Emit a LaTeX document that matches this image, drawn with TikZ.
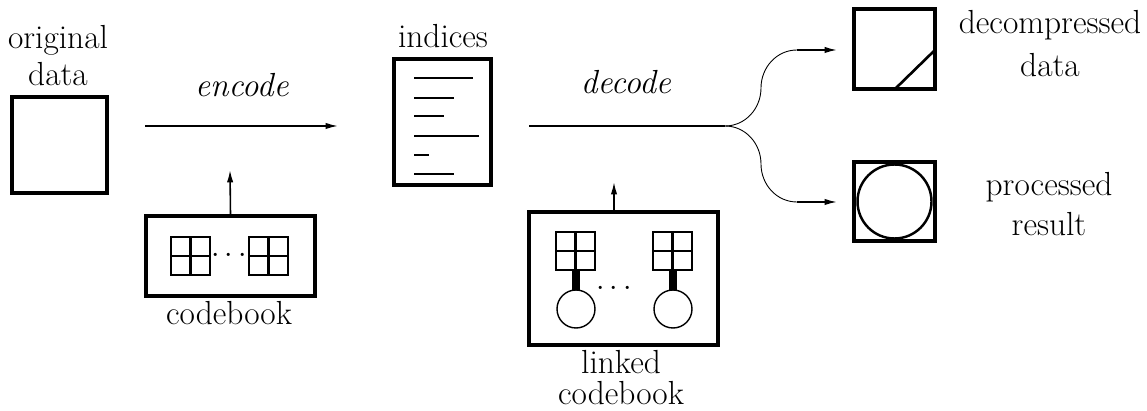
\documentclass[tikz,border=0pt]{standalone}
\usetikzlibrary{arrows.meta}
\tikzset{
	heavy box/.style={
		draw,
		line width=2.2pt,
		inner sep=0pt
	},
	label text/.style={
		anchor=base,
		align=center,
		inner sep=0pt,
		font=\fontsize{19}{21.6}\selectfont
	},
	flow/.style={
		line width=0.9pt,
		-{Latex[length=7pt,width=3.6pt]}
	},
	branch/.style={
		line width=0.5pt
	},
	cell line/.style={
		line width=1.3pt
	},
	index line/.style={
		line width=1.4pt
	}
}

\begin{document}
\begin{tikzpicture}[x=0.02cm, y=-0.02cm]
		
		% --- frame of the picture ---
		\useasboundingbox (0,0) rectangle (1147,411);
		
		% --- 1. original data ---
		% (base of a two-line label = base of its last line)
		\node[heavy box, minimum width=1.9cm, minimum height=1.92cm] (orig) at (59.5,145) {};
		\node[label text] (origLabel) at (58,86) {original\\data};
		
		% --- 2. encode ---
		\coordinate (encStart) at (145,126);
		\coordinate (encEnd) at (338,126);
		\draw[flow] (encStart) -- (encEnd);
		\node[label text] (encLabel) at (242,97) {\textit{encode}};
		
		% --- 3. codebook ---
		\node[heavy box, minimum width=3.38cm, minimum height=1.6cm] (cb) at (230.5,256) {};
		\foreach \x in {171, 249} {
			\draw[cell line] (\x,237) rectangle ++(39,38);
			\draw[cell line] (\x+19.5,237) -- ++(0,38);
			\draw[cell line] (\x,256) -- ++(39,0);
		}
		\node[inner sep=0pt, font=\fontsize{19}{21.6}\selectfont] (cbDots) at (229,256) {$\cdots$};
		\node[label text] (cbLabel) at (229,325) {codebook};
		\coordinate (cbTip) at (230,170);
		\draw[flow] (cb.north) -- (cbTip);
		
		% --- 4. indices ---
		\node[heavy box, minimum width=1.94cm, minimum height=2.52cm] (idx) at (442.5,122) {};
		\node[label text] (idxLabel) at (443,48) {indices};
		\foreach \y/\len in {78/59, 98/40, 116/30, 136/65, 155/15, 174/40} {
			\draw[index line] (414,\y) -- ++(\len,0);
		}
		
		% --- 5. linked codebook ---
		\node[heavy box, minimum width=3.78cm, minimum height=2.66cm] (lcb) at (623.5,278.5) {};
		\foreach \x in {556, 653} {
			\draw[cell line] (\x,232) rectangle ++(39,38);
			\draw[cell line] (\x+19.5,232) -- ++(0,38);
			\draw[cell line] (\x,251) -- ++(39,0);
			\draw[line width=5pt] (\x+20,270) -- ++(0,20);
			\draw[line width=0.8pt] (\x+20,309) circle (19);
		}
		\node[inner sep=0pt, font=\fontsize{19}{21.6}\selectfont] (lcbDots) at (614,289) {$\cdots$};
		\node[label text] (lcbLabel) at (621,405) {linked\\[-3.6pt]codebook};
		\coordinate (lcbTip) at (614,182);
		\draw[flow] (lcb.north -| lcbTip) -- (lcbTip);
		
		% --- 6. decode and the two branches ---
		\coordinate (decStart) at (529,126);
		\coordinate (split) at (725,126);
		\draw[flow, -] (decStart) -- (split);
		\node[label text] (decLabel) at (626,94) {\textit{decode}};
		
		\coordinate (upMid) at (761,88);
		\coordinate (upBend) at (797,50);
		\coordinate (upTip) at (837,50);
		\coordinate (downMid) at (761,164);
		\coordinate (downBend) at (797,202);
		\coordinate (downTip) at (837,202);
		\draw[branch] (split) to[out=0, in=-90] (upMid) to[out=90, in=180] (upBend);
		\draw[branch] (split) to[out=0, in=90] (downMid) to[out=-90, in=180] (downBend);
		\draw[flow] (upBend) -- (upTip);
		\draw[flow] (downBend) -- (downTip);
		
		% --- 7. decompressed data ---
		\node[heavy box, minimum width=1.62cm, minimum height=1.6cm] (dec) at (894.5,49) {};
		\draw[line width=1.5pt] (895,89) -- (935,50);
		\node[label text] (decLabelR) at (1050,77) {decompressed\\[3.4pt]data};
		
		% --- 8. processed result ---
		\node[heavy box, minimum width=1.62cm, minimum height=1.58cm] (proc) at (894.5,201.5) {};
		\draw[line width=1.4pt] (proc.center) circle (37);
		\node[label text] (procLabel) at (1049,236) {processed\\[1.7pt]result};
		
	\end{tikzpicture}
\end{document}
